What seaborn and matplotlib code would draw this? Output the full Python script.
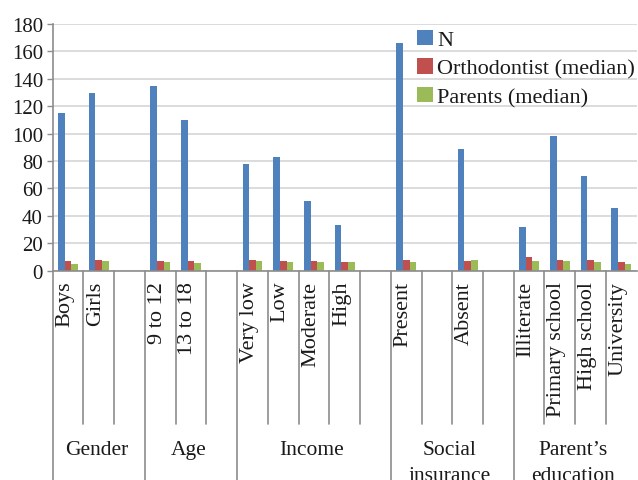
import matplotlib
matplotlib.use("Agg")
import matplotlib.pyplot as plt
import seaborn as sns
import pandas as pd
from matplotlib.transforms import blended_transform_factory

# ---- data ----
subgroups = ["Boys", "Girls", "", "9 to 12", "13 to 18", "",
             "Very low", "Low", "Moderate", "High", "",
             "Present", "", "Absent", "",
             "Illiterate", "Primary school", "High school", "University"]
n_values = [115, 130, None, 135, 110, None, 78, 83, 51, 33, None,
            166, None, 89, None, 32, 98, 69, 46]
ortho_median = [7, 8, None, 7, 7, None, 8, 7, 7, 6, None,
                8, None, 7, None, 10, 7.5, 8, 6]
parents_median = [5, 7, None, 6, 5.5, None, 7, 6, 6, 6, None,
                  6, None, 7.5, None, 7, 7, 6, 5]
groups = ["Gender", "Age", "Income", "Social\ninsurance", "Parent\u2019s\neducation"]
group_sizes = [3, 3, 5, 4, 4]
series_names = ["N", "Orthodontist (median)", "Parents (median)"]
colors = ["#4F81BD", "#C0504D", "#9BBB59"]
yticks = [0, 20, 40, 60, 80, 100, 120, 140, 160, 180]

slot_keys = [f"slot{i}" for i in range(len(subgroups))]
rows = []
for i, k in enumerate(slot_keys):
    for name, vals in zip(series_names, [n_values, ortho_median, parents_median]):
        if vals[i] is not None:
            rows.append({"slot": k, "series": name, "value": vals[i]})
df = pd.DataFrame(rows)

sns.set_theme(style="white")
plt.rcParams['font.family'] = ['Liberation Serif', 'DejaVu Serif']
text_color = "#1a1a1a"
axis_color = "#8c8c8c"

fig = plt.figure(figsize=(6.38, 4.81), dpi=100)
ax = fig.add_axes([52.7 / 638, 1 - 271.7 / 481, (636.7 - 52.7) / 638, 246.7 / 481])

sns.barplot(data=df, x="slot", y="value", hue="series", order=slot_keys,
            hue_order=series_names, palette=colors, width=0.65, saturation=1,
            linewidth=0, errorbar=None, ax=ax)

ax.set_xlim(-0.5, len(subgroups) - 0.5)
ax.set_ylim(0, 180)
ax.set_yticks(yticks)
ax.set_yticklabels([str(v) for v in yticks])
ax.set_xticks([])
ax.set_xlabel("")
ax.set_ylabel("")
ax.yaxis.grid(True, color="#d9d9d9", lw=1.3)
ax.set_axisbelow(True)
for s in ["top", "right"]:
    ax.spines[s].set_visible(False)
for s in ["left", "bottom"]:
    ax.spines[s].set_color(axis_color)
    ax.spines[s].set_linewidth(1.2)
ax.tick_params(axis="y", left=True, length=4.5, width=1, color=axis_color,
               labelsize=15, labelcolor=text_color, pad=2.5)

trans = blended_transform_factory(ax.transData, ax.transAxes)

# category separators
group_edges = [-0.5]
for g in group_sizes:
    group_edges.append(group_edges[-1] + g)
short_y = (271.7 - 425) / 246.7
for b in range(len(subgroups) - 1):
    x = b + 0.5
    if x in group_edges:
        ax.plot([x, x], [0, -1.2], transform=trans, color=axis_color, lw=1.2, clip_on=False)
    else:
        ax.plot([x, x], [0, short_y], transform=trans, color=axis_color, lw=1.2, clip_on=False)
ax.plot([-0.5, -0.5], [0, -1.2], transform=trans, color=axis_color, lw=1.2, clip_on=False)

# subgroup labels
lab_y = (271.7 - 281.7) / 246.7
for i, lab in enumerate(subgroups):
    if lab:
        ax.text(i - 0.1, lab_y, lab, rotation=90, ha="center", va="top",
                fontsize=16, color=text_color, transform=trans)

# group labels
base1 = (271.7 - 455.5) / 246.7
line_h = 25.5 / 246.7
for gi, g in enumerate(groups):
    cx = (group_edges[gi] + group_edges[gi + 1]) / 2 - 0.08
    for li, part in enumerate(g.split("\n")):
        ax.text(cx, base1 - li * line_h, part, ha="center", va="baseline",
                fontsize=15.5, color=text_color, transform=trans)

# legend
handles, labels = ax.get_legend_handles_labels()
ax.legend(handles, labels, loc="upper left",
          bbox_to_anchor=(417.3 / 638, 1 - 31 / 481), bbox_transform=fig.transFigure,
          frameon=False, fontsize=16, handlelength=0.69, handleheight=0.68,
          handletextpad=0.21, labelspacing=0.36, borderpad=0, borderaxespad=0,
          labelcolor=text_color)

fig.savefig("out.png", dpi=100)
